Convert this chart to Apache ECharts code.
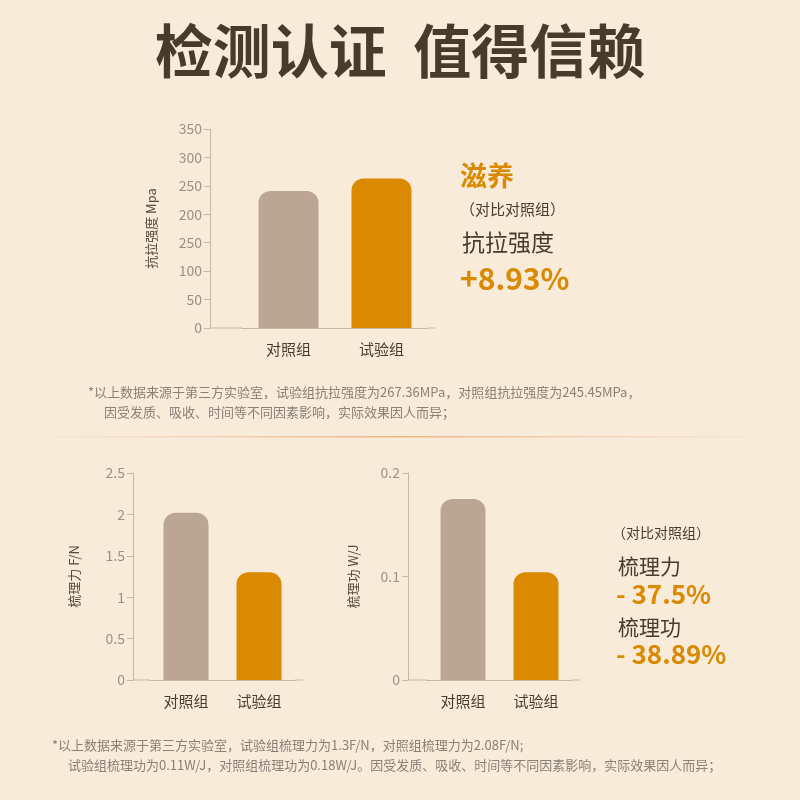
<!DOCTYPE html>
<html><head><meta charset="utf-8">
<script src="https://cdn.jsdelivr.net/npm/echarts@6/dist/echarts.min.js"></script>
<style>html,body{margin:0;padding:0;background:#f9ebda}#main{width:800px;height:800px}</style>
</head><body><div id="main"></div>
<script>
var categories = ['对照组', '试验组'];
var strength = [241, 263];
var combForce = [2.02, 1.3];
var combWork = [0.175, 0.104];
var strengthTicks = ['0', '50', '100', '250', '200', '250', '300', '350'];

var colors = ['#baa693', '#d98a00'];
var font = '"Noto Sans CJK SC", "Noto Sans", sans-serif';
var axisColor = '#c9b7a5';

function bars(values, xi, yi, width, radius) {
    return {
        type: 'bar', xAxisIndex: xi, yAxisIndex: yi, barWidth: width,
        data: values.map(function (v, i) {
            return { value: v, itemStyle: { color: colors[i], borderRadius: [radius, radius, 0, 0] } };
        })
    };
}
function xAx(gi) {
    return {
        type: 'category', gridIndex: gi, data: categories,
        axisLine: { lineStyle: { color: axisColor } },
        axisTick: { alignWithLabel: true, length: 6, lineStyle: { color: axisColor } },
        axisLabel: { color: '#4a3a2e', fontSize: 15, margin: 14, fontFamily: font }
    };
}
function yAx(gi, max, interval, name, offset, gap, fmt) {
    return {
        type: 'value', gridIndex: gi, min: 0, max: max, interval: interval, offset: offset,
        name: name, nameLocation: 'middle', nameGap: gap,
        nameTextStyle: { color: '#5a4a3e', fontSize: 13, fontFamily: font },
        axisLine: { show: true, lineStyle: { color: axisColor } },
        axisTick: { show: true, length: 6, lineStyle: { color: axisColor } },
        splitLine: { show: false },
        axisLabel: { color: '#9a9088', fontSize: 14, formatter: fmt, fontFamily: font }
    };
}
function txt(x, y, s, size, color, weight) {
    return { type: 'text', left: x, top: y, style: { text: s, fontSize: size, fill: color, fontWeight: weight || 'normal', fontFamily: font } };
}

var chart = echarts.init(document.getElementById('main'));
chart.setOption({
    backgroundColor: '#f9ebda',
    grid: [
        { left: 242, width: 186, top: 129, height: 199 },
        { left: 149.5, width: 146, top: 473, height: 207 },
        { left: 426.5, width: 146, top: 473, height: 207 }
    ],
    xAxis: [xAx(0), xAx(1), xAx(2)],
    yAxis: [
        yAx(0, 350, 50, '抗拉强度 Mpa', 32, 52, function (v) { return strengthTicks[Math.round(v / 50)]; }),
        yAx(1, 2.5, 0.5, '梳理力 F/N', 16.5, 52),
        yAx(2, 0.2, 0.1, '梳理功 W/J', 18.5, 48)
    ],
    series: [bars(strength, 0, 0, 60, 12), bars(combForce, 1, 1, 45, 12), bars(combWork, 2, 2, 45, 12)],
    graphic: [
        { type: 'line', shape: { x1: 210, y1: 328, x2: 242, y2: 328 }, style: { stroke: axisColor } },
        { type: 'line', shape: { x1: 133, y1: 680, x2: 150, y2: 680 }, style: { stroke: axisColor } },
        { type: 'line', shape: { x1: 408, y1: 680, x2: 427, y2: 680 }, style: { stroke: axisColor } },
        { type: 'line', shape: { x1: 295, y1: 680, x2: 303, y2: 680 }, style: { stroke: axisColor } },
        { type: 'line', shape: { x1: 572, y1: 680, x2: 580, y2: 680 }, style: { stroke: axisColor } },
        { type: 'line', shape: { x1: 428, y1: 328, x2: 435, y2: 328 }, style: { stroke: axisColor } },
        {
            type: 'rect', shape: { x: 0, y: 436, width: 800, height: 1.5 },
            style: { fill: new echarts.graphic.LinearGradient(0, 0, 1, 0, [
                { offset: 0, color: 'rgba(240,200,160,0)' }, { offset: 0.5, color: 'rgba(235,180,130,1)' }, { offset: 1, color: 'rgba(240,200,160,0)' }]) }
        },
        { type: 'text', left: 'center', top: 22, style: { text: '检测认证  值得信赖', fontSize: 58, fontWeight: 'bold', fill: '#4a3a2e', fontFamily: font } },
        txt(460, 162, '滋养', 27, '#d98a00', 'bold'),
        txt(460, 202, '（对比对照组）', 15, '#4a3a2e'),
        txt(462, 231, '抗拉强度', 23, '#4a3a2e'),
        txt(460, 264, '+8.93%', 30, '#d98a00', 'bold'),
        txt(88, 386, '*以上数据来源于第三方实验室，试验组抗拉强度为267.36MPa，对照组抗拉强度为245.45MPa，', 13, '#8a8078'),
        txt(104, 406, '因受发质、吸收、时间等不同因素影响，实际效果因人而异；', 13, '#8a8078'),
        txt(612, 526, '（对比对照组）', 14, '#4a3a2e'),
        txt(618, 556, '梳理力', 21, '#4a3a2e'),
        txt(616, 581, '- 37.5%', 26, '#d98a00', 'bold'),
        txt(618, 617, '梳理功', 21, '#4a3a2e'),
        txt(616, 641, '- 38.89%', 26, '#d98a00', 'bold'),
        txt(52, 739, '*以上数据来源于第三方实验室，试验组梳理力为1.3F/N，对照组梳理力为2.08F/N;', 13, '#8a8078'),
        txt(68, 759, '试验组梳理功为0.11W/J，对照组梳理功为0.18W/J。因受发质、吸收、时间等不同因素影响，实际效果因人而异；', 13, '#8a8078')
    ]
});
</script></body></html>
